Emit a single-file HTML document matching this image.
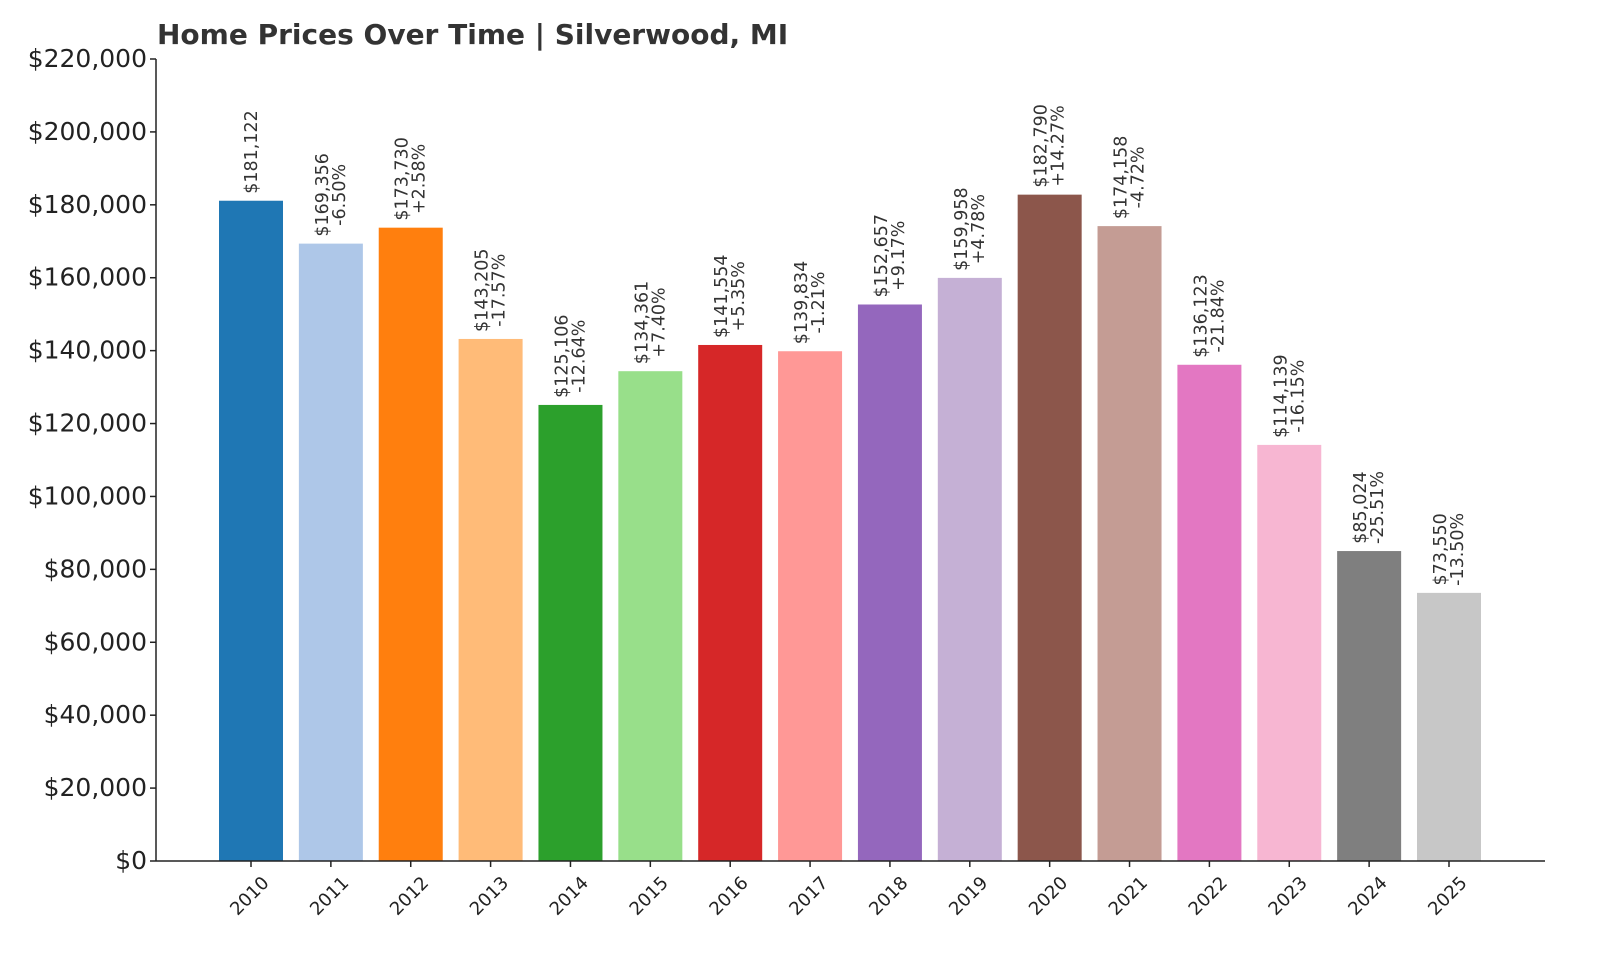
<!DOCTYPE html>
<html><head><meta charset="utf-8"><style>
html,body{margin:0;padding:0;background:#fff;}
svg{display:block;font-family:"DejaVu Sans","Liberation Sans",sans-serif;}
</style></head><body>
<svg id="chart" width="1600" height="960" xmlns="http://www.w3.org/2000/svg">
<text x="157" y="44" font-size="28" font-weight="bold" fill="#333">Home Prices Over Time | Silverwood, MI</text>
<g id="yaxis"></g>
<g id="bars"></g>
<g id="xaxis"></g>
</svg>
<script>
const years = ["2010","2011","2012","2013","2014","2015","2016","2017","2018","2019","2020","2021","2022","2023","2024","2025"];
const values = [181122,169356,173730,143205,125106,134361,141554,139834,152657,159958,182790,174158,136123,114139,85024,73550];
const pctLabels = ["","-6.50%","+2.58%","-17.57%","-12.64%","+7.40%","+5.35%","-1.21%","+9.17%","+4.78%","+14.27%","-4.72%","-21.84%","-16.15%","-25.51%","-13.50%"];
const yTicks = [0,20000,40000,60000,80000,100000,120000,140000,160000,180000,200000,220000];
const colors = ["#1f77b4","#aec7e8","#ff7f0e","#ffbb78","#2ca02c","#98df8a","#d62728","#ff9896","#9467bd","#c5b0d5","#8c564b","#c49c94","#e377c2","#f7b6d2","#7f7f7f","#c7c7c7"];

const NS="http://www.w3.org/2000/svg";
const y0=861, yTop=59, yMax=220000;
const yS=v=>y0-(v/yMax)*(y0-yTop);
const x0=251, step=(1449-251)/15, bw=64;
const xS=i=>x0+i*step;
function el(t,a,p){const e=document.createElementNS(NS,t);for(const k in a)e.setAttribute(k,a[k]);p.appendChild(e);return e;}
const ya=document.getElementById('yaxis'), ba=document.getElementById('bars'), xa=document.getElementById('xaxis');

yTicks.forEach(v=>{
  const y=yS(v);
  const t=el('line',{x1:150,x2:156,y1:y,y2:y,stroke:'#222','stroke-width':1.5},ya);
  
  
  const tx=el('text',{x:147,y:y+8,'text-anchor':'end','font-size':25,fill:'#222'},ya);
  tx.textContent='$'+v.toLocaleString('en-US');
  
  
});

values.forEach((v,i)=>{
  const cx=xS(i), y=yS(v);
  const r=el('rect',{x:cx-bw/2,y:y,width:bw,height:y0-y,fill:colors[i]},ba);
  
  
  const g=el('g',{transform:`translate(${cx},${y-7}) rotate(-90)`},ba);
  
  
  const valTxt='$'+v.toLocaleString('en-US');
  if(pctLabels[i]===''){
    const t=el('text',{x:0,y:6,'font-size':17.5,fill:'#333'},g); t.textContent=valTxt;
  }else{
    const t1=el('text',{x:0,y:-3,'font-size':17.5,fill:'#333','text-anchor':'middle'},g);
    const t2=el('text',{x:0,y:14,'font-size':17.5,fill:'#333','text-anchor':'middle'},g);
    t1.textContent=valTxt; t2.textContent=pctLabels[i];
    const w=Math.max(t1.getComputedTextLength(),t2.getComputedTextLength());
    t1.setAttribute('x',w/2); t2.setAttribute('x',w/2);
  }
  const tk=el('line',{x1:cx,x2:cx,y1:y0,y2:y0+6,stroke:'#222','stroke-width':1.5},xa);
  
  
  const yl=el('text',{transform:`translate(${cx+10},${y0+14}) rotate(-45)`,'text-anchor':'end','font-size':18,fill:'#222',dy:'0.7em'},xa);
  yl.textContent=years[i];
  
  
});
const sp1=el('line',{x1:156,x2:156,y1:yTop,y2:y0,stroke:'#222','stroke-width':1.5},ya);


const sp2=el('line',{x1:156,x2:1545,y1:y0,y2:y0,stroke:'#222','stroke-width':1.5},xa);


</script>
</body></html>
